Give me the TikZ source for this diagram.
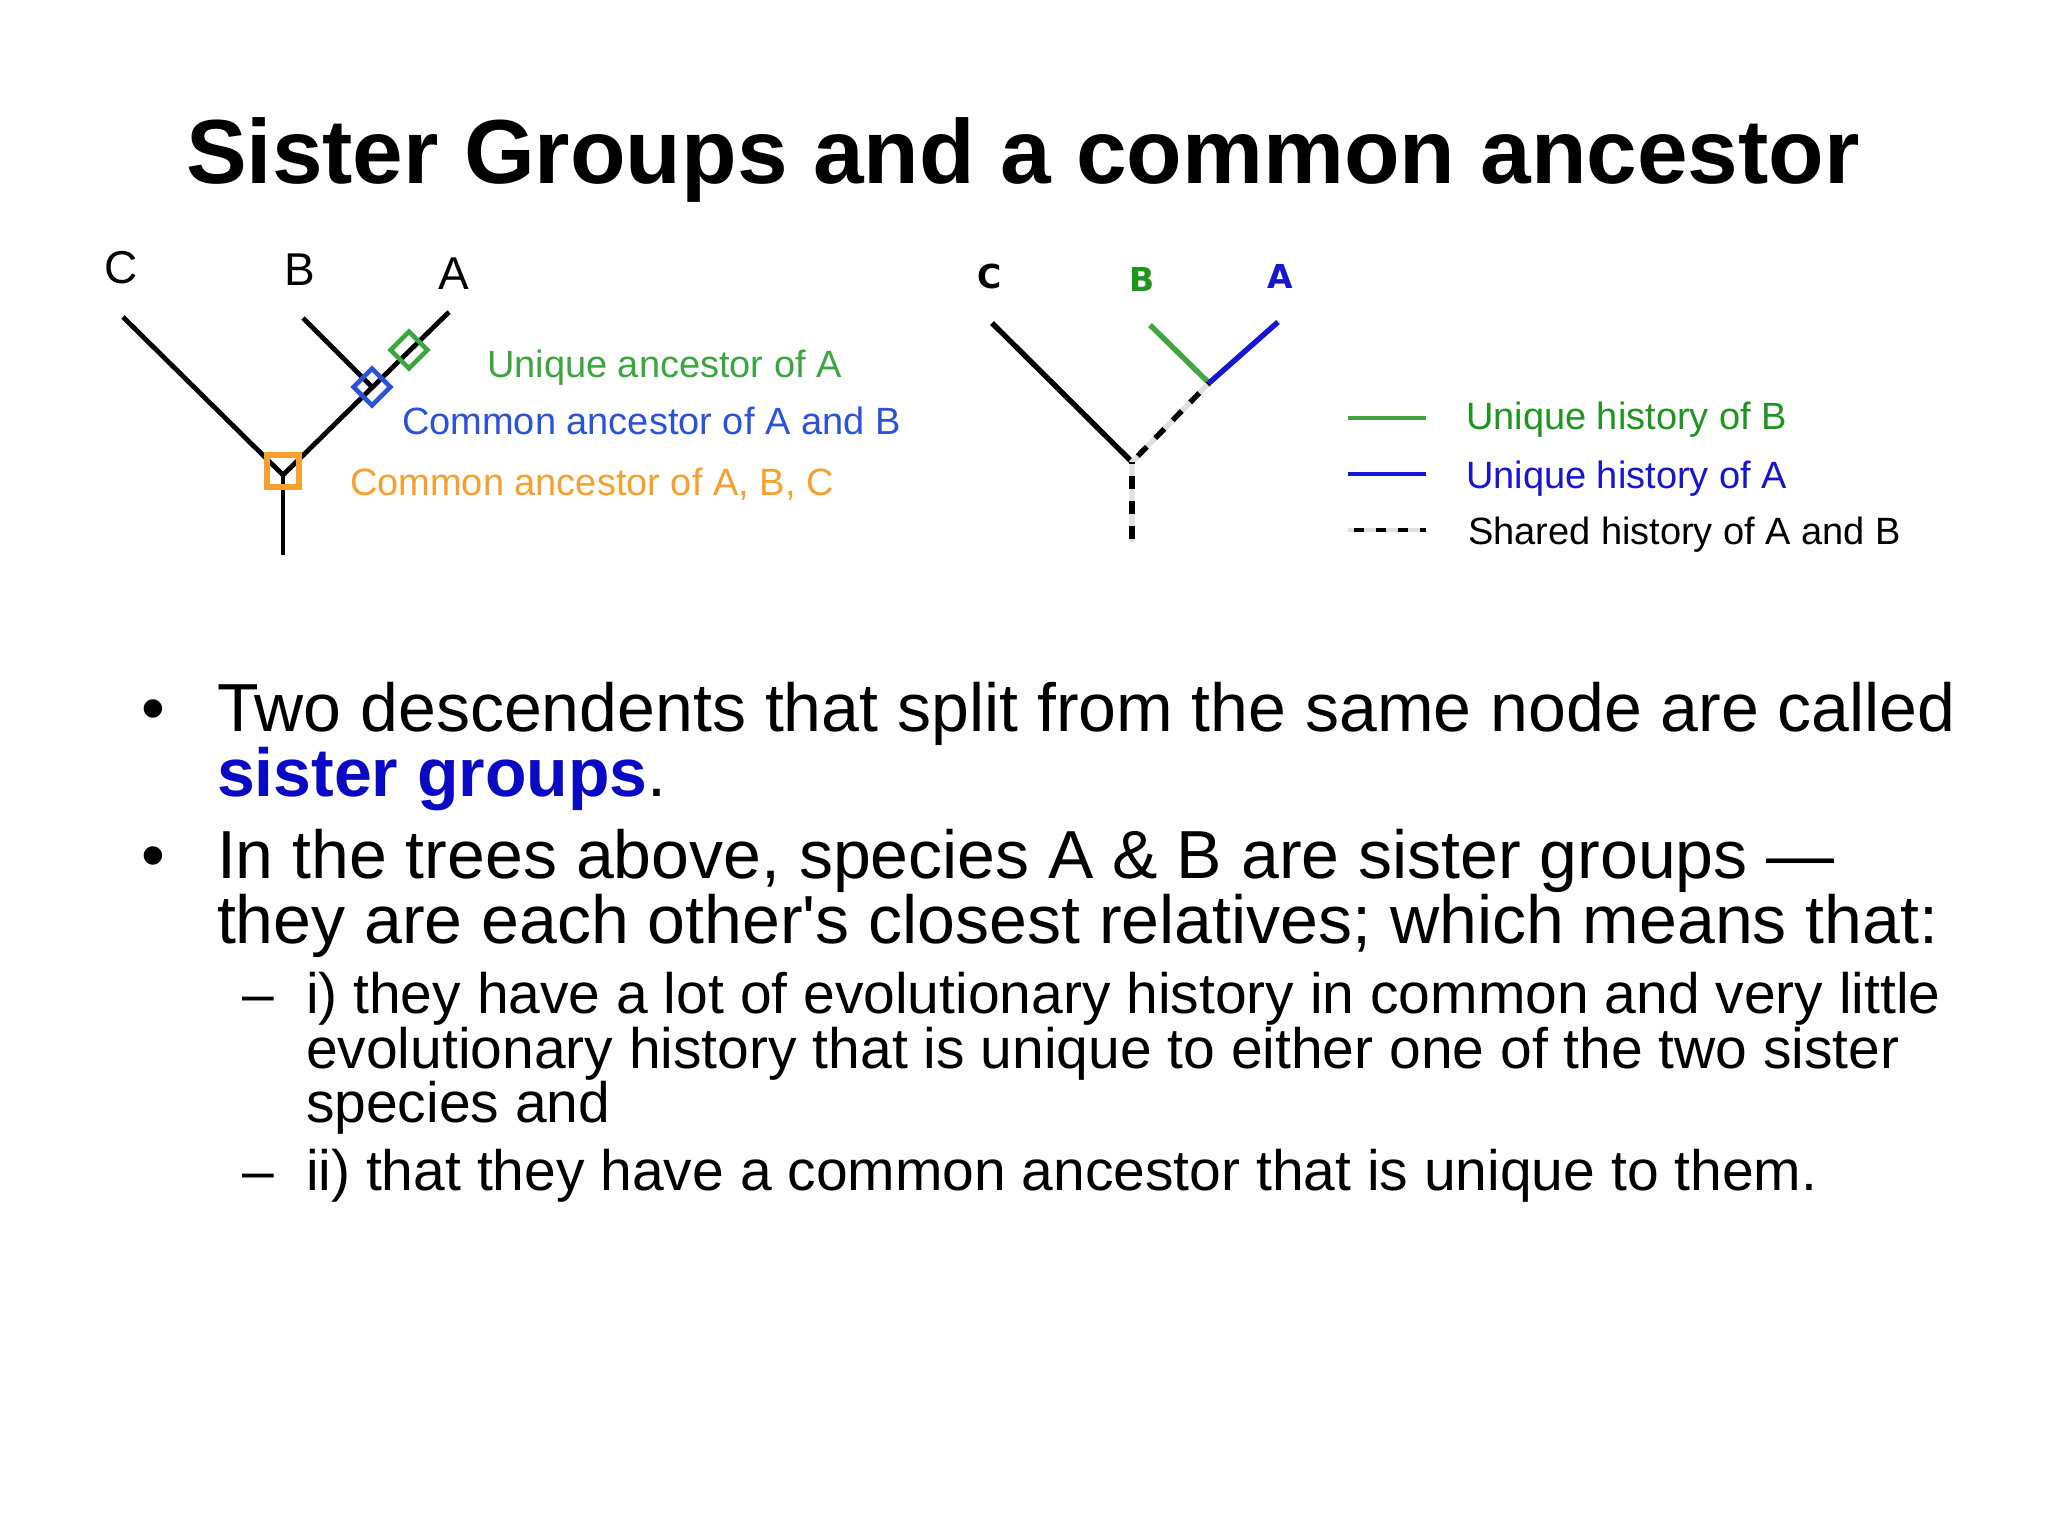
\documentclass[tikz,border=0pt]{standalone}
\usepackage{fontspec}
\setmainfont{Liberation Sans}
\newfontfamily\rawfont{Liberation Sans}
\newfontfamily\heavyfont{DejaVu Sans}
\definecolor{ancgreen}{HTML}{3AA63E}
\definecolor{ancblue}{HTML}{2A52DA}
\definecolor{ancorange}{HTML}{F7A02E}
\definecolor{histgreen}{HTML}{1F951F}
\definecolor{histblue}{HTML}{1616D2}
\definecolor{sisterblue}{HTML}{0A0AC4}
\begin{document}
\begin{tikzpicture}[x=0.5pt,y=-0.5pt,
  every node/.style={inner sep=0pt, outer sep=0pt},
  titlefont/.style={font=\fontsize{45.5}{50}\selectfont\bfseries},
  bodyfont/.style={font=\fontsize{34}{38}\selectfont, anchor=base west},
  subfont/.style={font=\fontsize{28.5}{32}\selectfont, anchor=base west},
  annfont/.style={font=\fontsize{19}{22}\selectfont, anchor=base west},
  leaflabel/.style={font=\fontsize{23}{26}\selectfont},
  boldleaf/.style={font=\heavyfont\fontsize{16.5}{20}\selectfont\bfseries},
  branch/.style={line width=2.4pt, black},
  rbranch/.style={line width=2.7pt},
  shared/.style={line width=2.7pt, black, dash pattern=on 6.5pt off 6pt, dash phase=-7pt},
  sharedbg/.style={line width=2.7pt, black!12},
  marker/.style={draw, line width=2.3pt, minimum size=13pt, fill=none},
]
\useasboundingbox[fill=white] (0,0) rectangle (2048,1536);

% Title
\node[titlefont, anchor=base] (title) at (1023,183) {Sister Groups and a common ancestor};

% ---------- Left tree ----------
\coordinate (Lc) at (123,317);
\coordinate (Lb) at (303,318);
\coordinate (La) at (449,312);
\coordinate (Lj) at (283,475);
\coordinate (Lr) at (283,555);
\coordinate (Lab) at (372,387);
\draw[branch] (Lc) -- (Lj);
\draw[branch] (La) -- (Lj);
\draw[branch] (Lb) -- (Lab);
\draw[branch] (Lj) -- (Lr);
\node[leaflabel] (labC) at (121,268) {C};
\node[leaflabel] (labB) at (300,270) {B};
\node[leaflabel] (labA) at (454,274) {A};
\node[marker, draw=ancorange, line width=2.6pt, minimum size=16pt] (mabc) at (283,471) {};
\node[marker, draw=ancblue, rotate=45] (mab) at (Lab) {};
\node[marker, draw=ancgreen, rotate=45] (ma) at (409,350) {};
\node[annfont, text=ancgreen] (tA) at (487,377) {Unique ancestor of A};
\node[annfont, text=ancblue] (tAB) at (402,434) {Common ancestor of A and B};
\node[annfont, text=ancorange] (tABC) at (350,495) {Common ancestor of A, B, C};

% ---------- Right tree ----------
\coordinate (Rc) at (992,323);
\coordinate (Rb) at (1150,325);
\coordinate (Ra) at (1278,322);
\coordinate (Rab) at (1209,383);
\coordinate (Rj) at (1132,462);
\coordinate (Rr) at (1132,542);
\draw[rbranch, black] (Rc) -- (Rj);
\draw[rbranch, histgreen!85!white] (Rb) -- (Rab);
\draw[rbranch, histblue] (Ra) -- (Rab);
\draw[sharedbg] (Rab) -- (Rj) -- (Rr);
\draw[shared] (Rab) -- (Rj);
\draw[shared] (Rj) -- (Rr);
\node[boldleaf] (rlabC) at (990,276) {C};
\node[boldleaf, text=histgreen] (rlabB) at (1142,279) {B};
\node[boldleaf, text=histblue] (rlabA) at (1280,276) {A};

% ---------- Legend ----------
\coordinate (lg1a) at (1348,418); \coordinate (lg1b) at (1426,418);
\coordinate (lg2a) at (1348,474); \coordinate (lg2b) at (1426,474);
\coordinate (lg3a) at (1348,530); \coordinate (lg3b) at (1426,530);
\draw[line width=2.3pt, histgreen!85!white] (lg1a) -- (lg1b);
\draw[line width=2.3pt, histblue] (lg2a) -- (lg2b);
\draw[sharedbg, line width=2.3pt] (lg3a) -- (lg3b);
\draw[line width=2.3pt, black, dash pattern=on 5pt off 6pt, dash phase=-3pt] (lg3a) -- (lg3b);
\node[annfont, text=histgreen] (lgB) at (1466,429) {Unique history of B};
\node[annfont, text=histblue] (lgA) at (1466,488) {Unique history of A};
\node[annfont, text=black] (lgS) at (1468,544) {Shared history of A and B};

% ---------- Bullets ----------
\node[bodyfont, anchor=base] (bul1) at (153,731) {•};
\node[bodyfont] (b1a) at (217,731) {Two descendents that split from the same node are called};
\node[bodyfont] (b1b) at (217,796) {\textcolor{sisterblue}{\bfseries sister groups}.};
\node[bodyfont, anchor=base] (bul2) at (153,878) {•};
\node[bodyfont] (b2a) at (217,878) {In the trees above, species A \& B are sister groups —};
\node[bodyfont] (b2b) at (217,943) {they are each other{\rawfont'}s closest relatives; which means that:};
\node[subfont, anchor=base] (d1) at (258,1013) {–};
\node[subfont] (s1a) at (306,1013) {i) they have a lot of evolutionary history in common and very little};
\node[subfont] (s1b) at (306,1068) {evolutionary history that is unique to either one of the two sister};
\node[subfont] (s1c) at (306,1122) {species and};
\node[subfont, anchor=base] (d2) at (258,1190) {–};
\node[subfont] (s2a) at (306,1190) {ii) that they have a common ancestor that is unique to them.};
\end{tikzpicture}
\end{document}
